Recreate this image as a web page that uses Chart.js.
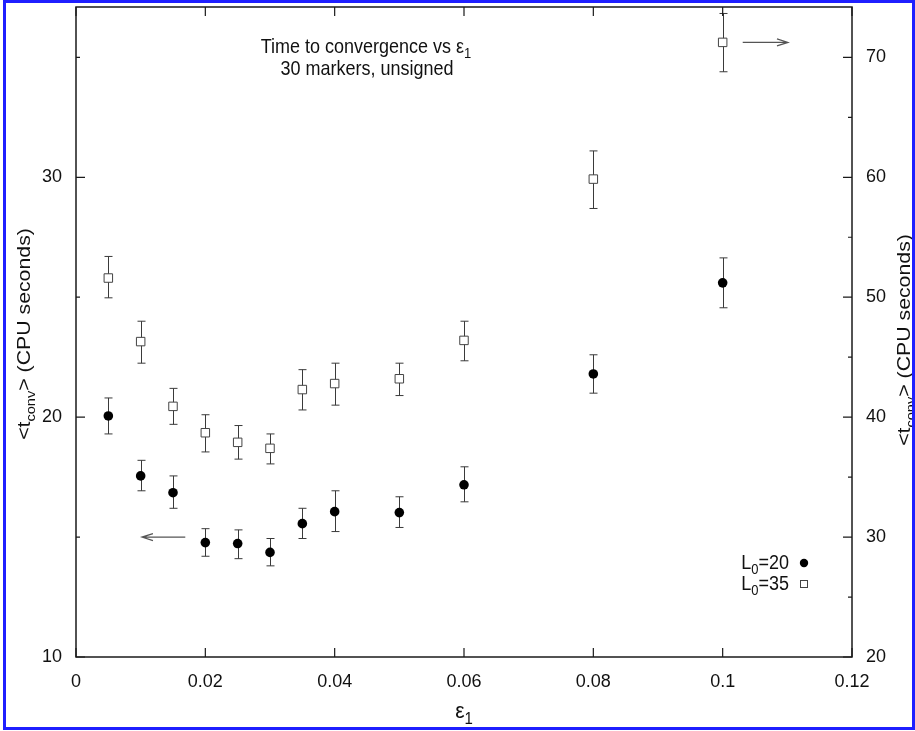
<!DOCTYPE html>
<html>
<head>
<meta charset="utf-8">
<title>Time to convergence vs ε1</title>
<script src="https://cdn.jsdelivr.net/npm/chart.js@4.4.1/dist/chart.umd.min.js"></script>
<style>
  body { margin: 0; background: #fff; }
  #wrap { width: 915px; height: 731px; }
</style>
</head>
<body>
<div id="wrap"><canvas id="chart" width="915" height="731"></canvas></div>
<script>
// epsilon_1 values (x)
const epsilon = [0.005, 0.01, 0.015, 0.02, 0.025, 0.03, 0.035, 0.04, 0.05, 0.06, 0.08, 0.1];

// L0=20, left axis
const l20Mean = [20.05, 17.55, 16.85, 14.77, 14.73, 14.36, 15.56, 16.06, 16.02, 17.18, 21.8, 25.6];
const l20Low  = [19.3, 16.93, 16.2, 14.2, 14.1, 13.8, 14.94, 15.23, 15.4, 16.47, 21.0, 24.56];
const l20High = [20.8, 18.2, 17.55, 15.35, 15.3, 14.94, 16.2, 16.93, 16.68, 17.93, 22.6, 26.64];

// L0=35, right axis
const l35Mean = [51.6, 46.3, 40.9, 38.7, 37.9, 37.4, 42.3, 42.8, 43.2, 46.4, 59.85, 71.25];
const l35Low  = [49.95, 44.5, 39.4, 37.1, 36.5, 36.1, 40.6, 41.0, 41.8, 44.7, 57.4, 68.8];
const l35High = [53.4, 48.0, 42.4, 40.2, 39.3, 38.6, 43.96, 44.5, 44.5, 48.0, 62.2, 73.66];

// ticks
const xTicks = [0, 0.02, 0.04, 0.06, 0.08, 0.1, 0.12];
const yTicks = [10, 20, 30];
const yMinorTicks = [15, 25, 35];
const y2Ticks = [20, 30, 40, 50, 60, 70];
const y2MinorTicks = [25, 35, 45, 55, 65];

// arrows pointing to the axis each series belongs to (data units)
const leftArrow = { from: [0.0169, 15], to: [0.0102, 15], axis: 'y' };
const rightArrow = { from: [0.1031, 71.25], to: [0.1101, 71.25], axis: 'y2' };

const FONT = '"Liberation Sans", Arial, Helvetica, sans-serif';
const INK = '#111';
const STRETCH_H = 1.08; // the scanned text is a bit taller than Arial
const STRETCH_V = 1.12;

// draws text made of [string, isSubscript] pieces at the origin
function partsWidth(ctx, parts, size) {
  let w = 0;
  parts.forEach(([t, sub]) => {
    ctx.font = (sub ? Math.round(size * 0.7) : size) + 'px ' + FONT;
    w += ctx.measureText(t).width;
  });
  return w;
}
function drawParts(ctx, parts, size, align) {
  const w = partsWidth(ctx, parts, size);
  let cx = align === 'center' ? -w / 2 : align === 'right' ? -w : 0;
  ctx.textAlign = 'left';
  ctx.textBaseline = 'alphabetic';
  ctx.fillStyle = INK;
  parts.forEach(([t, sub]) => {
    ctx.font = (sub ? Math.round(size * 0.7) : size) + 'px ' + FONT;
    ctx.fillText(t, cx, sub ? size * 0.28 : 0);
    cx += ctx.measureText(t).width;
  });
}
// horizontal text, stretched upward
function textH(ctx, parts, x, y, size, align) {
  ctx.save();
  ctx.translate(x, y);
  ctx.scale(1, STRETCH_H);
  drawParts(ctx, parts, size, align);
  ctx.restore();
}
// text reading bottom to top, stretched along its length
function textV(ctx, parts, x, y, size) {
  ctx.save();
  ctx.translate(x, y);
  ctx.rotate(-Math.PI / 2);
  ctx.scale(STRETCH_V, 1);
  drawParts(ctx, parts, size, 'center');
  ctx.restore();
}

const errorBars = {
  id: 'errorBars',
  beforeDatasetsDraw(chart) {
    const ctx = chart.ctx;
    const x = chart.scales.x;
    const sets = [
      { scale: chart.scales.y, lo: l20Low, hi: l20High },
      { scale: chart.scales.y2, lo: l35Low, hi: l35High }
    ];
    ctx.save();
    ctx.strokeStyle = '#3a3a3a';
    ctx.lineWidth = 1;
    sets.forEach(s => {
      epsilon.forEach((e, i) => {
        const px = Math.round(x.getPixelForValue(e)) + 0.5;
        const top = s.scale.getPixelForValue(s.hi[i]);
        const bot = s.scale.getPixelForValue(s.lo[i]);
        ctx.beginPath();
        ctx.moveTo(px, top); ctx.lineTo(px, bot);
        ctx.moveTo(px - 4, top); ctx.lineTo(px + 4, top);
        ctx.moveTo(px - 4, bot); ctx.lineTo(px + 4, bot);
        ctx.stroke();
      });
    });
    ctx.restore();
  }
};

const frameAndText = {
  id: 'frameAndText',
  afterDraw(chart) {
    const ctx = chart.ctx;
    const a = chart.chartArea;
    const x = chart.scales.x, y = chart.scales.y, y2 = chart.scales.y2;
    ctx.save();

    // plot box
    ctx.strokeStyle = '#1a1a1a';
    ctx.lineWidth = 1.5;
    ctx.strokeRect(a.left, a.top, a.right - a.left, a.bottom - a.top);

    // inward ticks
    ctx.lineWidth = 1.2;
    ctx.beginPath();
    xTicks.forEach(v => {
      const px = x.getPixelForValue(v);
      ctx.moveTo(px, a.bottom); ctx.lineTo(px, a.bottom - 9);
      ctx.moveTo(px, a.top); ctx.lineTo(px, a.top + 9);
    });
    yTicks.forEach(v => {
      const py = y.getPixelForValue(v);
      ctx.moveTo(a.left, py); ctx.lineTo(a.left + 9, py);
    });
    yMinorTicks.forEach(v => {
      const py = y.getPixelForValue(v);
      ctx.moveTo(a.left, py); ctx.lineTo(a.left + 4, py);
    });
    y2Ticks.forEach(v => {
      const py = y2.getPixelForValue(v);
      ctx.moveTo(a.right, py); ctx.lineTo(a.right - 9, py);
    });
    y2MinorTicks.forEach(v => {
      const py = y2.getPixelForValue(v);
      ctx.moveTo(a.right, py); ctx.lineTo(a.right - 4, py);
    });
    ctx.stroke();

    // arrows
    ctx.strokeStyle = '#555';
    ctx.lineWidth = 1.2;
    [leftArrow, rightArrow].forEach(ar => {
      const s = chart.scales[ar.axis];
      const x1 = x.getPixelForValue(ar.from[0]), y1 = s.getPixelForValue(ar.from[1]);
      const x2 = x.getPixelForValue(ar.to[0]), y2p = s.getPixelForValue(ar.to[1]);
      const dir = Math.sign(x2 - x1);
      ctx.beginPath();
      ctx.moveTo(x1, y1); ctx.lineTo(x2, y2p);
      ctx.moveTo(x2 - dir * 11, y2p - 3.5); ctx.lineTo(x2, y2p); ctx.lineTo(x2 - dir * 11, y2p + 3.5);
      ctx.stroke();
    });

    // title
    textH(ctx, [['Time to convergence vs ε', false], ['1', true]], 366, 53, 18, 'center');
    textH(ctx, [['30 markers, unsigned', false]], 367, 75, 18, 'center');

    // axis titles
    textH(ctx, [['ε', false], ['1', true]], (a.left + a.right) / 2, 718, 21, 'center');
    const yTitle = [['<t', false], ['conv', true], ['> (CPU seconds)', false]];
    textV(ctx, yTitle, 30, 334, 19);
    textV(ctx, yTitle, 910, 340, 19);

    // legend
    textH(ctx, [['L', false], ['0', true], ['=20', false]], 789, 569, 18, 'right');
    textH(ctx, [['L', false], ['0', true], ['=35', false]], 789, 590, 18, 'right');
    ctx.fillStyle = '#000';
    ctx.beginPath();
    ctx.arc(804, 563, 4.2, 0, Math.PI * 2);
    ctx.fill();
    ctx.strokeStyle = '#444';
    ctx.lineWidth = 1;
    ctx.strokeRect(800.5, 580.5, 7, 7);

    // blue frame round the picture
    ctx.strokeStyle = '#1f1fff';
    ctx.lineWidth = 3;
    ctx.strokeRect(4.5, 1.5, 909, 727);
    ctx.restore();
  }
};

const toPoints = (ys) => epsilon.map((e, i) => ({ x: e, y: ys[i] }));

// keep the plot box fixed: no extra room for half labels at the axis ends
const fitY = (w) => (s) => { s.width = w; s.paddingTop = 0; s.paddingBottom = 0; };

new Chart(document.getElementById('chart'), {
  type: 'scatter',
  data: {
    datasets: [
      {
        label: 'L0=20',
        data: toPoints(l20Mean),
        yAxisID: 'y',
        pointStyle: 'circle',
        pointRadius: 4.8,
        backgroundColor: '#000',
        borderColor: '#000',
        borderWidth: 0
      },
      {
        label: 'L0=35',
        data: toPoints(l35Mean),
        yAxisID: 'y2',
        pointStyle: 'rect',
        pointRadius: 6,
        backgroundColor: '#fff',
        borderColor: '#444',
        borderWidth: 1
      }
    ]
  },
  options: {
    responsive: false,
    animation: false,
    events: [],
    layout: { padding: { top: 6, left: 0, right: 0, bottom: 0 } },
    plugins: {
      legend: { display: false },
      tooltip: { enabled: false }
    },
    scales: {
      x: {
        type: 'linear',
        position: 'bottom',
        min: 0,
        max: 0.12,
        afterBuildTicks: s => { s.ticks = xTicks.map(value => ({ value })); },
        afterFit: s => { s.height = 74; s.paddingLeft = 0; s.paddingRight = 0; },
        grid: { display: false, drawTicks: false },
        border: { display: false },
        ticks: {
          padding: 14,
          color: INK,
          font: { family: FONT, size: 18 },
          maxRotation: 0,
          callback: v => Number(v.toFixed(2)).toString()
        }
      },
      y: {
        type: 'linear',
        position: 'left',
        min: 10,
        max: 37.1,
        afterBuildTicks: s => { s.ticks = yTicks.map(value => ({ value })); },
        afterFit: fitY(76),
        grid: { display: false, drawTicks: false },
        border: { display: false },
        ticks: { padding: 14, color: INK, font: { family: FONT, size: 18 } }
      },
      y2: {
        type: 'linear',
        position: 'right',
        min: 20,
        max: 74.2,
        afterBuildTicks: s => { s.ticks = y2Ticks.map(value => ({ value })); },
        afterFit: fitY(63),
        grid: { display: false, drawTicks: false },
        border: { display: false },
        ticks: { padding: 14, color: INK, font: { family: FONT, size: 18 } }
      }
    }
  },
  plugins: [errorBars, frameAndText]
});
</script>
</body>
</html>
